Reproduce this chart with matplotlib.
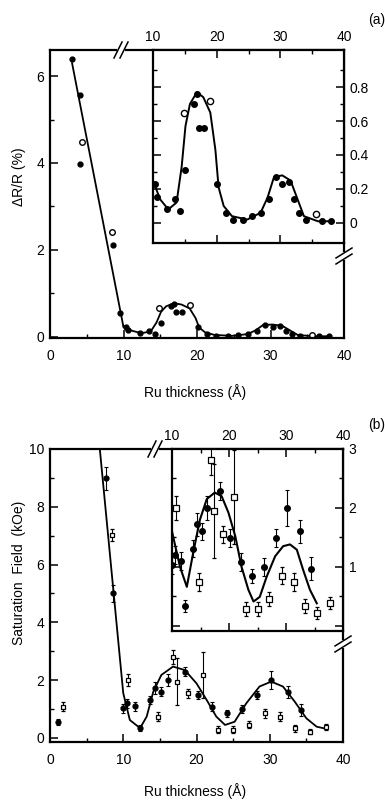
import matplotlib
matplotlib.use("Agg")
import matplotlib.pyplot as plt
from matplotlib.lines import Line2D
from matplotlib.patches import Rectangle

plt.rcParams['font.family'] = ['Liberation Sans Narrow', 'Liberation Sans', 'DejaVu Sans']
plt.rcParams['font.size'] = 10

# ---------------- Panel (a): magnetoresistance ----------------
a_filled_x = [3.0, 4.1, 4.1, 8.6, 9.5, 10.3, 10.6, 12.2, 13.5, 14.3, 15.1, 16.4, 16.9, 17.2, 18.0,
              20.1, 21.4, 22.6, 24.2, 25.6, 26.9, 28.2, 29.3, 30.3, 31.3, 32.1, 32.9, 34.0, 36.6, 38.0]
a_filled_y = [6.4, 5.56, 3.98, 2.1, 0.55, 0.23, 0.15, 0.08, 0.14, 0.07, 0.31, 0.70, 0.76, 0.56, 0.56,
              0.23, 0.06, 0.02, 0.02, 0.04, 0.06, 0.14, 0.27, 0.23, 0.24, 0.14, 0.06, 0.02, 0.01, 0.01]
a_open_x = [4.3, 8.4, 14.8, 19.0, 35.6]
a_open_y = [4.49, 2.4, 0.65, 0.72, 0.05]

a_steep_x = [3.0, 10.0]
a_steep_y = [6.3, 0.22]
a_fit_x = [10.0, 11.1, 12.4, 13.7, 14.5, 15.1, 15.8, 16.9, 17.9, 19.0, 19.8, 20.3, 21.1, 22.4,
           24.8, 26.9, 28.0, 29.0, 30.3, 31.6, 32.7, 33.7, 35.9, 38.0]
a_fit_y = [0.25, 0.14, 0.08, 0.12, 0.33, 0.57, 0.70, 0.77, 0.74, 0.65, 0.43, 0.21, 0.10, 0.04,
           0.02, 0.06, 0.15, 0.27, 0.28, 0.25, 0.14, 0.04, 0.01, 0.01]
a_inset_yticks = [0, 0.2, 0.4, 0.6, 0.8]
a_inset_yticklabels = ['0', '0.2', '0.4', '0.6', '0.8']

# ---------------- Panel (b): saturation field ----------------
b_filled_x = [1.1, 7.7, 8.6, 10.0, 10.5, 11.6, 12.3, 13.6, 14.3, 15.2, 16.1, 18.4, 20.2, 22.1,
              24.1, 26.2, 28.2, 30.2, 32.5, 34.3]
b_filled_y = [0.56, 8.98, 5.0, 1.03, 1.2, 1.1, 0.34, 1.31, 1.72, 1.6, 2.0, 2.29, 1.49, 1.08,
              0.85, 1.0, 1.49, 2.0, 1.6, 0.97]
b_filled_err = [0.1, 0.4, 0.3, 0.15, 0.15, 0.15, 0.1, 0.15, 0.2, 0.15, 0.2, 0.15, 0.15, 0.15,
                0.12, 0.15, 0.15, 0.3, 0.2, 0.2]
b_open_x = [1.8, 8.4, 10.7, 14.8, 16.8, 17.3, 18.9, 20.9, 23.0, 25.0, 27.1, 29.3, 31.4, 33.4, 35.5, 37.7]
b_open_y = [1.08, 7.02, 2.0, 0.74, 2.81, 1.95, 1.55, 2.18, 0.28, 0.28, 0.45, 0.85, 0.74, 0.34, 0.22, 0.39]
b_open_err = [0.15, 0.2, 0.2, 0.15, 0.25, 0.8, 0.15, 0.8, 0.12, 0.12, 0.12, 0.15, 0.15, 0.12, 0.1, 0.1]

b_fit_main_x = [6.8, 10.0, 10.9, 12.3, 13.2, 14.1, 15.2, 16.8, 18.4, 20.0, 21.4, 22.7, 23.9, 25.2,
                26.8, 28.6, 30.2, 31.8, 33.4, 35.0, 36.4, 37.3]
b_fit_main_y = [10.0, 1.55, 0.62, 0.34, 0.74, 1.6, 2.18, 2.47, 2.35, 1.89, 1.31, 0.74, 0.45, 0.56,
                1.2, 1.78, 1.95, 1.78, 1.26, 0.68, 0.39, 0.34]
b_fit_inset_x = [10.0, 11.4, 12.6, 13.7, 14.9, 16.1, 17.5, 18.7, 19.9, 21.1, 22.2, 23.4, 24.3, 25.4,
                 26.6, 28.1, 29.5, 30.7, 31.9, 33.0, 34.2, 35.4]
b_fit_inset_y = [1.6, 1.0, 0.66, 1.23, 1.80, 2.15, 2.26, 2.2, 1.92, 1.52, 1.0, 0.61, 0.41, 0.49,
                 0.83, 1.18, 1.35, 1.38, 1.29, 0.95, 0.61, 0.38]
b_inset_yticks = [0, 1, 2, 3]
b_inset_yticklabels = ['', '1', '2', '3']

main_xticks = [0, 10, 20, 30, 40]
inset_xticks = [10, 20, 30, 40]

W, H = 385, 800
fig = plt.figure(figsize=(W / 100, H / 100), dpi=100)
fig.patch.set_facecolor('white')


def box(l, t, r, b):
    return [l / W, 1 - b / H, (r - l) / W, (b - t) / H]


def style(ax, lw=1.6):
    for s in ax.spines.values():
        s.set_linewidth(lw)
    ax.tick_params(direction='in', which='major', length=6, width=1.1, labelsize=10)
    ax.tick_params(direction='in', which='minor', length=3, width=1.0)


# ---- (a) main
ax_a = fig.add_axes(box(50, 50, 344, 338))
ax_a.set_xlim(0, 40)
ax_a.set_ylim(-0.03, 6.6)
style(ax_a)
ax_a.set_xticks(main_xticks)
ax_a.set_xticks([5, 15, 25, 35], minor=True)
ax_a.set_yticks([0, 2, 4, 6])
ax_a.set_yticks([1, 3, 5], minor=True)
ax_a.tick_params(axis='x', pad=8)
ax_a.tick_params(axis='y', pad=4)
ax_a.plot(a_steep_x, a_steep_y, color='k', lw=1.3)
ax_a.plot(a_fit_x, a_fit_y, color='k', lw=1.3)
ax_a.plot(a_filled_x, a_filled_y, 'o', ms=3.5, color='k')
ax_a.plot(a_open_x, a_open_y, 'o', ms=4, mfc='white', mec='k', mew=1.0)

# ---- (a) inset
in_a = fig.add_axes(box(153, 50, 344, 243))
in_a.set_zorder(3)
in_a.set_facecolor('white')
in_a.set_xlim(10, 40)
in_a.set_ylim(-0.118, 1.018)
style(in_a)
in_a.set_xticks(inset_xticks)
in_a.set_xticks([15, 25, 35], minor=True)
in_a.set_yticks(a_inset_yticks)
in_a.set_yticklabels(a_inset_yticklabels)
in_a.set_yticks([0.1, 0.3, 0.5, 0.7, 0.9], minor=True)
in_a.tick_params(axis='both', which='both', top=True, bottom=True, left=True, right=True,
                 labeltop=True, labelbottom=False, labelleft=False, labelright=True)
in_a.tick_params(axis='x', pad=4)
in_a.tick_params(axis='y', pad=4)
in_a.plot(a_fit_x, a_fit_y, color='k', lw=1.4)
in_a.plot(a_filled_x, a_filled_y, 'o', ms=4, color='k')
in_a.plot(a_open_x, a_open_y, 'o', ms=4.5, mfc='white', mec='k', mew=1.0)

# ---- (b) main
ax_b = fig.add_axes(box(50, 449, 343, 742))
ax_b.set_xlim(0, 40)
ax_b.set_ylim(-0.14, 10)
style(ax_b)
ax_b.set_xticks(main_xticks)
ax_b.set_xticks([5, 15, 25, 35], minor=True)
ax_b.set_yticks([0, 2, 4, 6, 8, 10])
ax_b.set_yticks([1, 3, 5, 7, 9], minor=True)
ax_b.tick_params(axis='x', pad=8)
ax_b.tick_params(axis='y', pad=4)
ax_b.plot(b_fit_main_x, b_fit_main_y, color='k', lw=1.3, clip_on=True)
ax_b.errorbar(b_filled_x, b_filled_y, yerr=b_filled_err, fmt='o', ms=3.5, color='k',
              elinewidth=0.8, capsize=1.5, capthick=0.8)
ax_b.errorbar(b_open_x, b_open_y, yerr=b_open_err, fmt='s', ms=3.5, mfc='white', mec='k',
              mew=0.9, ecolor='k', elinewidth=0.8, capsize=1.5, capthick=0.8)

# ---- (b) inset
in_b = fig.add_axes(box(172, 449, 343, 631))
in_b.set_zorder(3)
in_b.set_facecolor('white')
in_b.set_xlim(10, 40)
in_b.set_ylim(-0.09, 3)
style(in_b)
in_b.set_xticks(inset_xticks)
in_b.set_xticks([15, 25, 35], minor=True)
in_b.set_yticks(b_inset_yticks)
in_b.set_yticklabels(b_inset_yticklabels)
in_b.set_yticks([0.5, 1.5, 2.5], minor=True)
in_b.tick_params(axis='both', which='both', top=True, bottom=True, left=True, right=True,
                 labeltop=True, labelbottom=False, labelleft=False, labelright=True)
in_b.tick_params(axis='x', pad=4)
in_b.tick_params(axis='y', pad=4)
in_b.plot(b_fit_inset_x, b_fit_inset_y, color='k', lw=1.5)
in_b.errorbar(b_filled_x, b_filled_y, yerr=b_filled_err, fmt='o', ms=4, color='k',
              elinewidth=0.8, capsize=1.5, capthick=0.8)
in_b.errorbar(b_open_x, b_open_y, yerr=b_open_err, fmt='s', ms=4, mfc='white', mec='k',
              mew=0.9, ecolor='k', elinewidth=0.8, capsize=1.5, capthick=0.8)


# ---- axis-break marks (//)
def break_mark(px, py, horizontal=True):
    if horizontal:
        fig.patches.append(Rectangle(((px - 4) / W, 1 - (py + 3) / H), 8 / W, 6 / H,
                                     transform=fig.transFigure, facecolor='white',
                                     edgecolor='none', zorder=10))
        for dx in (-3, 3):
            fig.lines.append(Line2D([(px + dx - 4) / W, (px + dx + 4) / W],
                                    [1 - (py + 8) / H, 1 - (py - 8) / H],
                                    transform=fig.transFigure, color='k', lw=1.1, zorder=11))
    else:
        fig.patches.append(Rectangle(((px - 3) / W, 1 - (py + 4) / H), 6 / W, 8 / H,
                                     transform=fig.transFigure, facecolor='white',
                                     edgecolor='none', zorder=10))
        for dy in (-3, 3):
            fig.lines.append(Line2D([(px - 8) / W, (px + 8) / W],
                                    [1 - (py + dy + 5) / H, 1 - (py + dy - 5) / H],
                                    transform=fig.transFigure, color='k', lw=1.1, zorder=11))


break_mark(121, 50, True)
break_mark(344, 256, False)
break_mark(155, 449, True)
break_mark(343, 644, False)

# ---- labels
fig.text(19 / W, 1 - 177 / H, 'ΔR/R (%)', rotation=90, ha='center', va='center', fontsize=10)
fig.text(195 / W, 1 - 392 / H, 'Ru thickness (Å)', ha='center', va='center', fontsize=10)
fig.text(19 / W, 1 - 573 / H, 'Saturation  Field  (kOe)', rotation=90, ha='center', va='center',
         fontsize=10)
fig.text(195 / W, 1 - 791 / H, 'Ru thickness (Å)', ha='center', va='center', fontsize=10)
fig.text(368 / W, 1 - 20 / H, '(a)', ha='left', va='center', fontsize=10)
fig.text(368 / W, 1 - 425 / H, '(b)', ha='left', va='center', fontsize=10)

fig.savefig('out.png', dpi=100, facecolor='white')
